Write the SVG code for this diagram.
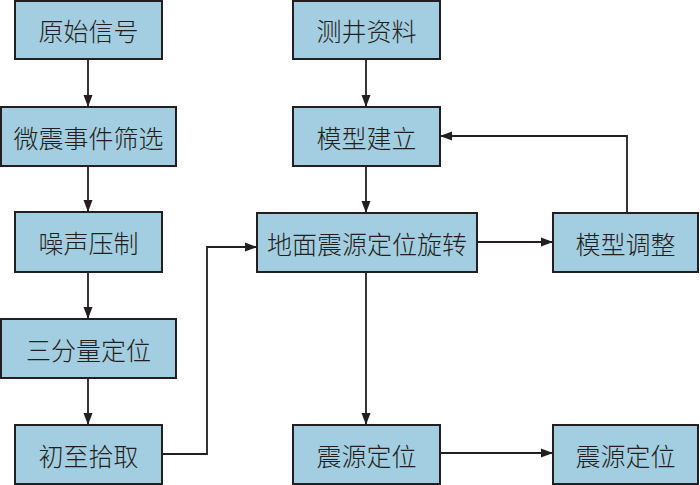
<svg xmlns="http://www.w3.org/2000/svg" width="700" height="485" viewBox="0 0 700 485">
<defs>
<style>
.box rect{fill:#a3cee1;stroke:#231f20;stroke-width:2}
.box text{font-family:"Noto Sans CJK SC","Noto Sans",sans-serif;font-size:25px;font-weight:300;fill:#231f20;text-anchor:middle;dominant-baseline:central}
.conn path{fill:none;stroke:#231f20;stroke-width:1.8;marker-end:url(#ah)}
</style>
<marker id="ah" viewBox="0 0 12 10" refX="12" refY="5" markerWidth="12" markerHeight="10" markerUnits="userSpaceOnUse" orient="auto">
<path d="M0,0.5 L12,5 L0,9.5 Z" fill="#231f20"/>
</marker>
</defs>
<rect width="700" height="485" fill="#fff"/>
<g class="conn">
<path d="M88,59 V107"/>
<path d="M88,166 V212"/>
<path d="M88,272 V319"/>
<path d="M88,378 V425"/>
<path d="M162,454 H207 V247 H257"/>
<path d="M366,59 V107"/>
<path d="M366,166 V213"/>
<path d="M477,242 H553"/>
<path d="M627,213 V136 H440"/>
<path d="M366,272 V425"/>
<path d="M440,453 H553"/>
</g>
<g id="n1" class="box"><rect x="15" y="1" width="147" height="58"/><text x="88.5" y="30">原始信号</text></g>
<g id="n2" class="box"><rect x="1" y="107" width="175" height="59"/><text x="88.5" y="136.5">微震事件筛选</text></g>
<g id="n3" class="box"><rect x="15" y="212" width="147" height="60"/><text x="88.5" y="242">噪声压制</text></g>
<g id="n4" class="box"><rect x="1" y="319" width="175" height="59"/><text x="88.5" y="348.5">三分量定位</text></g>
<g id="n5" class="box"><rect x="15" y="425" width="147" height="59"/><text x="88.5" y="454.5">初至拾取</text></g>
<g id="n6" class="box"><rect x="293" y="1" width="147" height="58"/><text x="366.5" y="30">测井资料</text></g>
<g id="n7" class="box"><rect x="293" y="107" width="147" height="59"/><text x="366.5" y="136.5">模型建立</text></g>
<g id="n8" class="box"><rect x="257" y="213" width="220" height="59"/><text x="367" y="242.5">地面震源定位旋转</text></g>
<g id="n9" class="box"><rect x="553" y="213" width="145" height="59"/><text x="625.5" y="242.5">模型调整</text></g>
<g id="n10" class="box"><rect x="293" y="425" width="147" height="59"/><text x="366.5" y="454.5">震源定位</text></g>
<g id="n11" class="box"><rect x="553" y="425" width="145" height="59"/><text x="625.5" y="454.5">震源定位</text></g>
</svg>
